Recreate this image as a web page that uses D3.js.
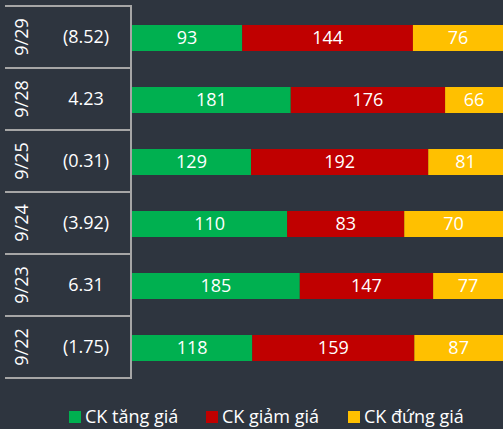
<!DOCTYPE html>
<html>
<head>
<meta charset="utf-8">
<script src="https://cdn.jsdelivr.net/npm/d3@7"></script>
<style>
  body { margin: 0; background: #2e353f; }
  text { font-family: "Open Sans", sans-serif; }
</style>
</head>
<body>
<script>
// data, top row first
var dates = ["9/29", "9/28", "9/25", "9/24", "9/23", "9/22"];
var changes = ["(8.52)", "4.23", "(0.31)", "(3.92)", "6.31", "(1.75)"];
var up = [93, 181, 129, 110, 185, 118];
var down = [144, 176, 192, 83, 147, 159];
var flat = [76, 66, 81, 70, 77, 87];
var seriesNames = ["CK tăng giá", "CK giảm giá", "CK đứng giá"];
var colors = ["#00b050", "#c00000", "#ffc000"];

var width = 503, height = 429;
var tableTop = 6, tableBottom = 378, axisX = 131;

var svg = d3.select("body").append("svg")
    .attr("width", width)
    .attr("height", height);

var rows = dates.map(function(d, i) {
  return { date: d, change: changes[i], vals: [up[i], down[i], flat[i]] };
});

var y = d3.scaleBand()
    .domain(dates)
    .range([tableTop, tableBottom]);

var x = d3.scaleLinear()
    .domain([0, 1])
    .range([axisX + 1, width]);

// row separators in the label table
var lines = svg.append("g");
d3.range(dates.length + 1).forEach(function(i) {
  var yy = tableTop + i * y.step();
  lines.append("line")
      .attr("x1", 5).attr("x2", axisX)
      .attr("y1", yy).attr("y2", yy)
      .attr("stroke", "#a6a6a6")
      .attr("stroke-width", 2);
});
lines.append("line")
    .attr("x1", axisX).attr("x2", axisX)
    .attr("y1", tableTop - 1).attr("y2", tableBottom + 1)
    .attr("stroke", "#a6a6a6")
    .attr("stroke-width", 2);

// date labels, rotated
svg.append("g").selectAll("text")
    .data(rows)
  .enter().append("text")
    .attr("transform", function(d) {
      return "translate(22," + (y(d.date) + y.bandwidth() / 2) + ") rotate(-90)";
    })
    .attr("text-anchor", "middle")
    .attr("dy", ".35em")
    .attr("fill", "#ffffff")
    .style("font-size", "18px")
    .text(function(d) { return d.date; });

// index change labels
svg.append("g").selectAll("text")
    .data(rows)
  .enter().append("text")
    .attr("x", 86)
    .attr("y", function(d) { return y(d.date) + y.bandwidth() / 2; })
    .attr("text-anchor", "middle")
    .attr("dy", ".35em")
    .attr("fill", "#ffffff")
    .style("font-size", "18px")
    .text(function(d) { return d.change; });

// stacked 100% bars
var barH = 26;
rows.forEach(function(r) {
  var total = d3.sum(r.vals);
  var acc = 0;
  var g = svg.append("g");
  r.vals.forEach(function(v, k) {
    var x0 = x(acc / total), x1 = x((acc + v) / total);
    var yc = y(r.date) + y.bandwidth() / 2 + 1;
    g.append("rect")
        .attr("x", x0).attr("width", x1 - x0)
        .attr("y", yc - barH / 2).attr("height", barH)
        .attr("fill", colors[k]);
    g.append("text")
        .attr("x", (x0 + x1) / 2)
        .attr("y", yc)
        .attr("dy", ".36em")
        .attr("text-anchor", "middle")
        .attr("fill", "#ffffff")
        .style("font-size", "18px")
        .text(v);
    acc += v;
  });
});

// legend
var legendX = [69, 206, 348];
var legend = svg.append("g").selectAll("g")
    .data(seriesNames)
  .enter().append("g")
    .attr("transform", function(d, i) { return "translate(" + legendX[i] + ",411)"; });
legend.append("rect")
    .attr("width", 12).attr("height", 12)
    .attr("fill", function(d, i) { return colors[i]; });
legend.append("text")
    .attr("x", 16).attr("y", 6)
    .attr("dy", ".35em")
    .attr("fill", "#ffffff")
    .style("font-size", "18px")
    .text(function(d) { return d; });
</script>
</body>
</html>
